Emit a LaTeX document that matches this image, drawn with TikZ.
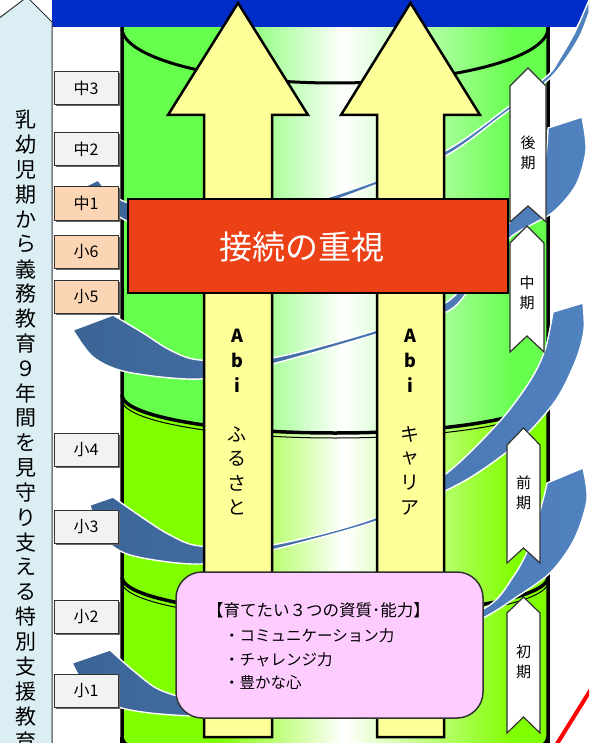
\documentclass[tikz,border=0pt]{standalone}
\usepackage{fontspec}
\setmainfont{Noto Sans CJK JP}
\usetikzlibrary{shadows}
\definecolor{bandblue}{RGB}{0,45,200}
\definecolor{gtop}{RGB}{102,255,77}
\definecolor{glow}{RGB}{128,255,0}
\definecolor{arrowyel}{RGB}{255,255,153}
\definecolor{boxred}{RGB}{236,65,22}
\definecolor{boxpink}{RGB}{255,204,255}
\definecolor{sidebl}{RGB}{218,238,243}
\definecolor{labgray}{RGB}{242,242,242}
\definecolor{labpeach}{RGB}{252,213,181}
\definecolor{windl}{RGB}{60,100,150}
\definecolor{windr}{RGB}{80,130,192}
\definecolor{edgegray}{RGB}{50,50,50}
\pgfdeclarehorizontalshading{drumtop}{100bp}{color(0bp)=(gtop); color(36bp)=(gtop); color(51bp)=(white); color(71bp)=(gtop); color(100bp)=(gtop)}
\pgfdeclarehorizontalshading{drumlow}{100bp}{color(0bp)=(glow); color(36bp)=(glow); color(51bp)=(white); color(71bp)=(glow); color(100bp)=(glow)}
\tikzset{
 cyl/.style={draw=black, line width=3.5},
 wind/.style={left color=windl, right color=windr, draw=white, line width=1.4},
 yarrow/.style={fill=arrowyel, draw=black, line width=2.5, line join=miter},
 lab/.style={draw=edgegray, line width=1, minimum width=64, minimum height=33, inner sep=0,
   font=\fontsize{16}{16}\selectfont,
   drop shadow={shadow xshift=1.5pt, shadow yshift=-1.5pt, fill=black!60, opacity=1}},
 labg/.style={lab, fill=labgray},
 labp/.style={lab, fill=labpeach},
 chevron/.style={fill=white, draw=edgegray, line width=1.2},
 chtxt/.style={font=\fontsize{15}{15}\selectfont, inner sep=0},
 vtxt/.style={font=\fontsize{21}{21}\selectfont, inner sep=0},
 atxt/.style={font=\fontsize{19}{19}\selectfont, inner sep=0},
 abtxt/.style={font=\fontsize{18}{18}\selectfont\bfseries, inner sep=0},
 pinktxt/.style={font=\fontsize{15.5}{15.5}\selectfont, inner sep=0, anchor=base west},
}
\begin{document}
\begin{tikzpicture}[x=1pt,y=-1pt]
\useasboundingbox (0,0) rectangle (589,743);
\clip (0,0) rectangle (589,743);
\fill[white] (0,0) rectangle (589,743);

% ---- cylinder drums (bottom first)
\shadedraw[shading=drumlow, cyl] (122,737) -- (122,800) -- (548,800) -- (548,737);
\shadedraw[shading=drumlow, cyl] (122,577) -- (122,737) .. controls (122,758) and (217.4,775) .. (335,775) .. controls (452.6,775) and (548,758) .. (548,737) -- (548,577);
\draw[black, line width=1] (122,742) .. controls (122,763) and (217.4,780) .. (335,780) .. controls (452.6,780) and (548,763) .. (548,742);
\shadedraw[shading=drumlow, cyl] (122,395) -- (122,577) .. controls (122,598) and (217.4,615) .. (335,615) .. controls (452.6,615) and (548,598) .. (548,577) -- (548,395);
\draw[black, line width=1] (122,582) .. controls (122,603) and (217.4,620) .. (335,620) .. controls (452.6,620) and (548,603) .. (548,582);
\shadedraw[shading=drumtop, cyl] (122,0) -- (122,395) .. controls (122,416) and (217.4,433) .. (335,433) .. controls (452.6,433) and (548,416) .. (548,395) -- (548,0);
\draw[black, line width=1] (122,400) .. controls (122,421) and (217.4,438) .. (335,438) .. controls (452.6,438) and (548,421) .. (548,400);
\draw[black, line width=3] (122,28) .. controls (122,58) and (217.4,83) .. (335,83) .. controls (452.6,83) and (548,58) .. (548,28);

% ---- top band
\fill[bandblue] (52,0) -- (589,0) .. controls (584,12) .. (576,27) -- (52,27) -- cycle;

% ---- spiral ribbon pieces
\path[wind] plot[smooth] coordinates {(589,0) (575,32) (560,58) (547,76) (500,113) (447,150) (373,182) (300,204) (200,212) (135,205) (110,193) (98,180)}
  -- plot[smooth] coordinates {(86,186) (100,204) (118,216) (135,222) (200,220) (300,210) (373,186) (447,155) (500,117) (547,81) (565,60) (580,36) (589,13)} -- cycle;
\path[wind] plot[smooth] coordinates {(582,117) (586,150) (576,185) (552,213) (512,236) (480,272) (450,310) (377,334) (272,364) (200,379) (127,372) (93,357) (73,330)}
  -- plot[smooth] coordinates {(113,315) (143,333) (170,350) (200,360) (272,358) (377,330) (447,302) (480,262) (510,222) (532,190) (545,160) (548,128)} -- cycle;
\path[wind] plot[smooth] coordinates {(583,303) (584,330) (576,360) (556,400) (521,440) (482,470) (447,490) (377,521) (272,550) (200,564) (130,555) (101,535) (90,505)}
  -- plot[smooth] coordinates {(113,497) (143,518) (170,535) (200,546) (272,545) (377,517) (447,473) (500,421) (530,381) (545,350) (553,312)} -- cycle;
\path[wind] plot[smooth] coordinates {(583,468) (587,500) (574,540) (550,573) (512,600) (485,617) (400,662) (250,712) (200,716) (150,713) (115,706) (88,690) (72,663)}
  -- plot[smooth] coordinates {(110,650) (135,672) (160,690) (200,700) (250,690) (400,640) (485,608) (513,577) (530,545) (543,500) (547,483)} -- cycle;

% ---- yellow arrows
\path[yarrow] (238,3) -- (308,115) -- (272,115) -- (272,737) -- (204,737) -- (204,115) -- (168,115) -- cycle;
\path[yarrow] (410.5,3) -- (480,115) -- (444,115) -- (444,737) -- (377,737) -- (377,115) -- (341,115) -- cycle;
\foreach \k/\ch in {0/A,1/b,2/i} {
  \node[abtxt] (la\k) at (237,{336+24.5*\k}) {\ch};
  \node[abtxt] (ra\k) at (410,{336+24.5*\k}) {\ch};
}
\foreach \k/\ch in {4/ふ,5/る,6/さ,7/と} \node[atxt] (lk\k) at (237,{336+24.5*\k}) {\ch};
\foreach \k/\ch in {4/キ,5/ャ,6/リ,7/ア} \node[atxt] (rk\k) at (410,{336+24.5*\k}) {\ch};

% ---- red box
\node[draw=black, line width=2.5, fill=boxred, minimum width=380, minimum height=94, inner sep=0] (redbox) at (318,246) {};
\node[font=\fontsize{33}{33}\selectfont, text=white, inner sep=0] (redtxt) at (302,247) {接続の重視};

% ---- pink box
\node[draw=edgegray, line width=1.5, fill=boxpink, rounded corners=26, minimum width=307, minimum height=146, inner sep=0] (pink) at (329.5,645) {};
\node[pinktxt, font=\fontsize{16.5}{16.5}\selectfont] (p1) at (207,616) {【育てたい３つの資質･能力】};
\node[pinktxt] (p2) at (224,641) {・コミュニケーション力};
\node[pinktxt] (p3) at (224,665) {・チャレンジ力};
\node[pinktxt] (p4) at (224,688) {・豊かな心};

% ---- left side arrow
\path[fill=sidebl, draw=edgegray, line width=1] (-2,800) -- (-2,19) -- (27,-3) -- (52,22) -- (52,800) -- cycle;
\foreach \ch [count=\i from 0] in {乳,幼,児,期,か,ら,義,務,教,育,９,年,間,を,見,守,り,支,え,る,特,別,支,援,教,育}
  \node[vtxt] (v\i) at (26,{120+24.84*\i}) {\ch};

% ---- grade labels
\node[labg] (c3) at (86,88.5) {中3};
\node[labg] (c2) at (86,149.5) {中2};
\node[labp] (c1) at (86,203.5) {中1};
\node[labp] (s6) at (86,251.5) {小6};
\node[labp] (s5) at (86,297) {小5};
\node[labg] (s4) at (86,449.5) {小4};
\node[labg] (s3) at (86,526.5) {小3};
\node[labg] (s2) at (86,617) {小2};
\node[labg] (s1) at (86,690.5) {小1};

% ---- stage chevrons
\path[chevron] (528,68) -- (546,86) -- (546,222) -- (528,206) -- (510,222) -- (510,86) -- cycle;
\path[chevron] (527,226) -- (544,243) -- (544,352) -- (527,336) -- (510,352) -- (510,243) -- cycle;
\path[chevron] (523.5,428) -- (540,445) -- (540,563) -- (523.5,548) -- (507,563) -- (507,445) -- cycle;
\path[chevron] (523.5,597) -- (540,613) -- (540,733) -- (523.5,717) -- (507,733) -- (507,613) -- cycle;
\node[chtxt] (k1a) at (528,143) {後};
\node[chtxt] (k1b) at (528,163) {期};
\node[chtxt] (k2a) at (527,283) {中};
\node[chtxt] (k2b) at (527,303) {期};
\node[chtxt] (k3a) at (523.5,483) {前};
\node[chtxt] (k3b) at (523.5,503) {期};
\node[chtxt] (k4a) at (523.5,652) {初};
\node[chtxt] (k4b) at (523.5,672) {期};

% ---- red line bottom right
\draw[red, line width=4] (555,747) -- (593,686);
\end{tikzpicture}
\end{document}
